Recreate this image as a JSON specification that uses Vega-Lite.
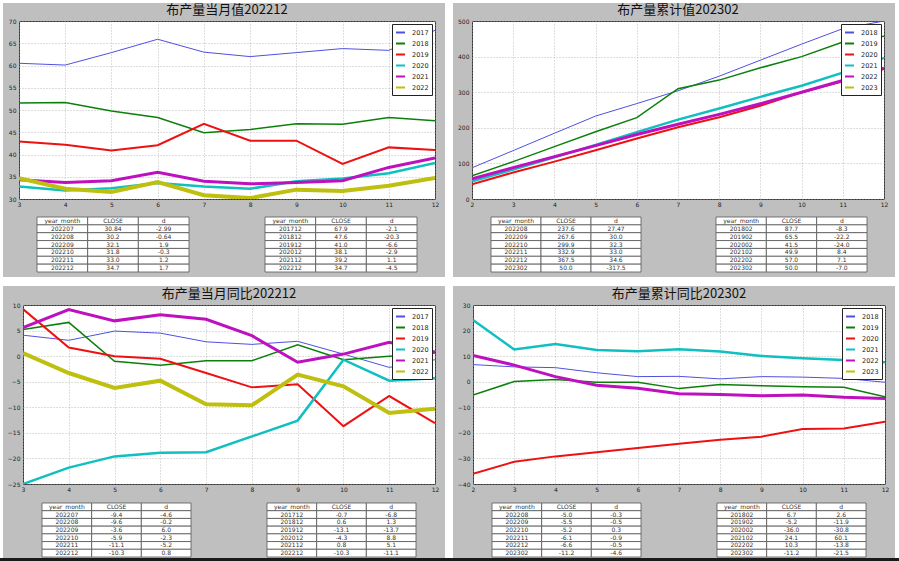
{
 "$schema": "https://vega.github.io/schema/vega-lite/v6.json",
 "padding": 0,
 "background": "#bfbfbf",
 "data": {"values": []},
 "columns": 2,
 "spacing": 0,
 "bounds": "flush",
 "align": "each",
 "resolve": {"scale": {"color": "independent"}, "legend": {"color": "independent"}},
 "config": {
  "view": {"stroke": null},
  "font": "DejaVu Sans",
  "axis": {"labelFontSize": 6, "labelColor": "#222", "labelFont": "DejaVu Sans", "ticks": false, "domain": false, "grid": true, "gridColor": "#a0a0a0", "gridDash": [1, 2], "gridWidth": 0.7, "labelPadding": 2, "labelOverlap": false, "labelFlush": false},
  "axisY": {"labelPadding": 3},
  "legend": {"orient": "top-right", "offset": 3, "fillColor": "white", "strokeColor": "#222", "padding": 3, "labelFontSize": 6.5, "labelFont": "DejaVu Sans", "labelColor": "#222", "symbolSize": 81, "symbolStrokeWidth": 2, "rowPadding": 1, "labelOffset": 6, "symbolType": "stroke", "cornerRadius": 0},
  "title": {"fontSize": 13, "font": "Noto Sans CJK SC", "fontWeight": "normal", "color": "#111", "offset": 1},
  "line": {"strokeCap": "butt"}
 },
 "datasets": {
  "lines": [
   {"p":"TL","m":3,"2017":60.5,"2018":51.6,"2019":42.9,"2020":32.8,"2021":34.3,"2022":34.7},
   {"p":"TL","m":4,"2017":60.1,"2018":51.7,"2019":42.2,"2020":31.9,"2021":33.7,"2022":32.3},
   {"p":"TL","m":5,"2017":62.9,"2018":49.8,"2019":40.9,"2020":32.4,"2021":34.1,"2022":31.6},
   {"p":"TL","m":6,"2017":65.9,"2018":48.3,"2019":42.1,"2020":33.6,"2021":36.0,"2022":33.83},
   {"p":"TL","m":7,"2017":63.0,"2018":44.9,"2019":46.9,"2020":32.8,"2021":34.0,"2022":30.84},
   {"p":"TL","m":8,"2017":62.0,"2018":45.6,"2019":43.1,"2020":32.3,"2021":33.4,"2022":30.2},
   {"p":"TL","m":9,"2017":62.9,"2018":46.9,"2019":43.1,"2020":34.0,"2021":33.7,"2022":32.1},
   {"p":"TL","m":10,"2017":63.8,"2018":46.8,"2019":37.9,"2020":34.6,"2021":34.1,"2022":31.8},
   {"p":"TL","m":11,"2017":63.4,"2018":48.3,"2019":41.6,"2020":35.8,"2021":37.1,"2022":33.0},
   {"p":"TL","m":12,"2017":67.9,"2018":47.6,"2019":41.0,"2020":38.1,"2021":39.2,"2022":34.7},
   {"p":"TR","m":2,"2018":87.7,"2019":65.5,"2020":41.5,"2021":49.9,"2022":57.0,"2023":50.0},
   {"p":"TR","m":3,"2018":136,"2019":105,"2020":74.6,"2021":83,"2022":88},
   {"p":"TR","m":4,"2018":184.7,"2019":147,"2020":105,"2021":117,"2022":119},
   {"p":"TR","m":5,"2018":233,"2019":189,"2020":137,"2021":152,"2022":150},
   {"p":"TR","m":6,"2018":268,"2019":228.5,"2020":170,"2021":188,"2022":181},
   {"p":"TR","m":7,"2018":304,"2019":309.7,"2020":201.5,"2021":223,"2022":210.1},
   {"p":"TR","m":8,"2018":345,"2019":334,"2020":229.5,"2021":254,"2022":237.6},
   {"p":"TR","m":9,"2018":390,"2019":368.5,"2020":262,"2021":287,"2022":267.6},
   {"p":"TR","m":10,"2018":435,"2019":400,"2020":300,"2021":318,"2022":299.9},
   {"p":"TR","m":11,"2018":478.5,"2019":441,"2020":331,"2021":355,"2022":332.9},
   {"p":"TR","m":12,"2018":500,"2019":457,"2020":365,"2021":396.5,"2022":367.5},
   {"p":"BL","m":3,"2017":4.1,"2018":5.2,"2019":9.2,"2020":-25.0,"2021":5.6,"2022":0.6},
   {"p":"BL","m":4,"2017":3.1,"2018":6.6,"2019":1.7,"2020":-21.8,"2021":9.1,"2022":-3.3},
   {"p":"BL","m":5,"2017":4.9,"2018":-1.0,"2019":0.0,"2020":-19.6,"2021":6.9,"2022":-6.2},
   {"p":"BL","m":6,"2017":4.5,"2018":-1.8,"2019":-0.5,"2020":-18.9,"2021":8.1,"2022":-4.8},
   {"p":"BL","m":7,"2017":2.8,"2018":-0.9,"2019":-3.3,"2020":-18.8,"2021":7.2,"2022":-9.4},
   {"p":"BL","m":8,"2017":2.3,"2018":-0.9,"2019":-6.1,"2020":-15.7,"2021":4.0,"2022":-9.6},
   {"p":"BL","m":9,"2017":2.9,"2018":2.2,"2019":-5.5,"2020":-12.6,"2021":-1.2,"2022":-3.6},
   {"p":"BL","m":10,"2017":0.4,"2018":-0.7,"2019":-13.7,"2020":-0.7,"2021":0.4,"2022":-5.9},
   {"p":"BL","m":11,"2017":-2.2,"2018":0.0,"2019":-7.8,"2020":-4.8,"2021":2.7,"2022":-11.1},
   {"p":"BL","m":12,"2017":-0.7,"2018":0.6,"2019":-13.1,"2020":-4.3,"2021":0.8,"2022":-10.3},
   {"p":"BR","m":2,"2018":6.7,"2019":-5.2,"2020":-36.0,"2021":24.1,"2022":10.3,"2023":-11.2},
   {"p":"BR","m":3,"2018":5.8,"2019":0.1,"2020":-31.3,"2021":12.6,"2022":6.5},
   {"p":"BR","m":4,"2018":5.5,"2019":0.9,"2020":-29.2,"2021":14.7,"2022":2.0},
   {"p":"BR","m":5,"2018":3.5,"2019":-0.2,"2020":-27.6,"2021":12.4,"2022":-1.4},
   {"p":"BR","m":6,"2018":2.0,"2019":-0.2,"2020":-25.9,"2021":11.9,"2022":-2.6},
   {"p":"BR","m":7,"2018":2.1,"2019":-2.7,"2020":-24.3,"2021":12.7,"2022":-4.7},
   {"p":"BR","m":8,"2018":1.1,"2019":-1.1,"2020":-22.7,"2021":11.8,"2022":-5.0},
   {"p":"BR","m":9,"2018":2.0,"2019":-1.6,"2020":-21.5,"2021":10.1,"2022":-5.5},
   {"p":"BR","m":10,"2018":1.8,"2019":-2.0,"2020":-18.5,"2021":9.2,"2022":-5.2},
   {"p":"BR","m":11,"2018":1.3,"2019":-2.2,"2020":-18.3,"2021":8.5,"2022":-6.1},
   {"p":"BR","m":12,"2018":-0.2,"2019":-5.9,"2020":-15.7,"2021":7.6,"2022":-6.6}
  ],
  "tables": [
   {"t":"TL1","r":0,"year_month":"year_month","CLOSE":"CLOSE","d":"d"},
   {"t":"TL1","r":1,"year_month":"202207","CLOSE":"30.84","d":"-2.99"},
   {"t":"TL1","r":2,"year_month":"202208","CLOSE":"30.2","d":"-0.64"},
   {"t":"TL1","r":3,"year_month":"202209","CLOSE":"32.1","d":"1.9"},
   {"t":"TL1","r":4,"year_month":"202210","CLOSE":"31.8","d":"-0.3"},
   {"t":"TL1","r":5,"year_month":"202211","CLOSE":"33.0","d":"1.2"},
   {"t":"TL1","r":6,"year_month":"202212","CLOSE":"34.7","d":"1.7"},
   {"t":"TL2","r":0,"year_month":"year_month","CLOSE":"CLOSE","d":"d"},
   {"t":"TL2","r":1,"year_month":"201712","CLOSE":"67.9","d":"-2.1"},
   {"t":"TL2","r":2,"year_month":"201812","CLOSE":"47.6","d":"-20.3"},
   {"t":"TL2","r":3,"year_month":"201912","CLOSE":"41.0","d":"-6.6"},
   {"t":"TL2","r":4,"year_month":"202012","CLOSE":"38.1","d":"-2.9"},
   {"t":"TL2","r":5,"year_month":"202112","CLOSE":"39.2","d":"1.1"},
   {"t":"TL2","r":6,"year_month":"202212","CLOSE":"34.7","d":"-4.5"},
   {"t":"TR1","r":0,"year_month":"year_month","CLOSE":"CLOSE","d":"d"},
   {"t":"TR1","r":1,"year_month":"202208","CLOSE":"237.6","d":"27.47"},
   {"t":"TR1","r":2,"year_month":"202209","CLOSE":"267.6","d":"30.0"},
   {"t":"TR1","r":3,"year_month":"202210","CLOSE":"299.9","d":"32.3"},
   {"t":"TR1","r":4,"year_month":"202211","CLOSE":"332.9","d":"33.0"},
   {"t":"TR1","r":5,"year_month":"202212","CLOSE":"367.5","d":"34.6"},
   {"t":"TR1","r":6,"year_month":"202302","CLOSE":"50.0","d":"-317.5"},
   {"t":"TR2","r":0,"year_month":"year_month","CLOSE":"CLOSE","d":"d"},
   {"t":"TR2","r":1,"year_month":"201802","CLOSE":"87.7","d":"-8.3"},
   {"t":"TR2","r":2,"year_month":"201902","CLOSE":"65.5","d":"-22.2"},
   {"t":"TR2","r":3,"year_month":"202002","CLOSE":"41.5","d":"-24.0"},
   {"t":"TR2","r":4,"year_month":"202102","CLOSE":"49.9","d":"8.4"},
   {"t":"TR2","r":5,"year_month":"202202","CLOSE":"57.0","d":"7.1"},
   {"t":"TR2","r":6,"year_month":"202302","CLOSE":"50.0","d":"-7.0"},
   {"t":"BL1","r":0,"year_month":"year_month","CLOSE":"CLOSE","d":"d"},
   {"t":"BL1","r":1,"year_month":"202207","CLOSE":"-9.4","d":"-4.6"},
   {"t":"BL1","r":2,"year_month":"202208","CLOSE":"-9.6","d":"-0.2"},
   {"t":"BL1","r":3,"year_month":"202209","CLOSE":"-3.6","d":"6.0"},
   {"t":"BL1","r":4,"year_month":"202210","CLOSE":"-5.9","d":"-2.3"},
   {"t":"BL1","r":5,"year_month":"202211","CLOSE":"-11.1","d":"-5.2"},
   {"t":"BL1","r":6,"year_month":"202212","CLOSE":"-10.3","d":"0.8"},
   {"t":"BL2","r":0,"year_month":"year_month","CLOSE":"CLOSE","d":"d"},
   {"t":"BL2","r":1,"year_month":"201712","CLOSE":"-0.7","d":"-6.8"},
   {"t":"BL2","r":2,"year_month":"201812","CLOSE":"0.6","d":"1.3"},
   {"t":"BL2","r":3,"year_month":"201912","CLOSE":"-13.1","d":"-13.7"},
   {"t":"BL2","r":4,"year_month":"202012","CLOSE":"-4.3","d":"8.8"},
   {"t":"BL2","r":5,"year_month":"202112","CLOSE":"0.8","d":"5.1"},
   {"t":"BL2","r":6,"year_month":"202212","CLOSE":"-10.3","d":"-11.1"},
   {"t":"BR1","r":0,"year_month":"year_month","CLOSE":"CLOSE","d":"d"},
   {"t":"BR1","r":1,"year_month":"202208","CLOSE":"-5.0","d":"-0.3"},
   {"t":"BR1","r":2,"year_month":"202209","CLOSE":"-5.5","d":"-0.5"},
   {"t":"BR1","r":3,"year_month":"202210","CLOSE":"-5.2","d":"0.3"},
   {"t":"BR1","r":4,"year_month":"202211","CLOSE":"-6.1","d":"-0.9"},
   {"t":"BR1","r":5,"year_month":"202212","CLOSE":"-6.6","d":"-0.5"},
   {"t":"BR1","r":6,"year_month":"202302","CLOSE":"-11.2","d":"-4.6"},
   {"t":"BR2","r":0,"year_month":"year_month","CLOSE":"CLOSE","d":"d"},
   {"t":"BR2","r":1,"year_month":"201802","CLOSE":"6.7","d":"2.6"},
   {"t":"BR2","r":2,"year_month":"201902","CLOSE":"-5.2","d":"-11.9"},
   {"t":"BR2","r":3,"year_month":"202002","CLOSE":"-36.0","d":"-30.8"},
   {"t":"BR2","r":4,"year_month":"202102","CLOSE":"24.1","d":"60.1"},
   {"t":"BR2","r":5,"year_month":"202202","CLOSE":"10.3","d":"-13.8"},
   {"t":"BR2","r":6,"year_month":"202302","CLOSE":"-11.2","d":"-21.5"}
  ]
 },
 "concat": [
  {"width":3,"height":3,"mark":"point","view":{"fill":"white"}},
  {"width":896,"height":3,"mark":"point","view":{"fill":"white"}},

  {"width":3,"height":18,"mark":"point","view":{"fill":"white"}},
  {"spacing":0,"bounds":"flush","hconcat":[
   {"width":442,"height":18,"mark":"point"},
   {"width":8,"height":18,"mark":"point","view":{"fill":"white"}},
   {"width":442,"height":18,"mark":"point"},
   {"width":4,"height":18,"mark":"point","view":{"fill":"white"}}
  ]},

  {"width":3,"height":178,"mark":"point","view":{"fill":"white"}},
  {"spacing":0,"bounds":"flush",
   "resolve": {"scale": {"color": "independent"}, "legend": {"color": "independent"}},
   "hconcat":[
   {"width":16,"height":178,"mark":"point"},
   {"width": 416, "height": 178, "title": "布产量当月值202212",
    "view": {"fill": "white", "stroke": "#333", "strokeWidth": 1},
    "data": {"name": "lines"},
    "transform": [{"filter": "datum.p == 'TL'"}, {"fold": ["2017","2018","2019","2020","2021","2022","2023"], "as": ["year","v"]}, {"filter": "isValid(datum.v)"}],
    "mark": {"type": "line", "clip": true},
    "encoding": {
     "x": {"field": "m", "type": "quantitative", "title": null, "scale": {"domain": [3, 12], "nice": false, "zero": false}, "axis": {"values": [3,4,5,6,7,8,9,10,11,12]}},
     "y": {"field": "v", "type": "quantitative", "title": null, "scale": {"domain": [30, 70], "nice": false, "zero": false}, "axis": {"values": [30,35,40,45,50,55,60,65,70]}},
     "color": {"field": "year", "type": "nominal", "scale": {"domain": ["2017","2018","2019","2020","2021","2022"], "range": ["#5050e0","#0a800a","#ee1111","#10bfbf","#bf10bf","#bfbf10"]}, "legend": {"title": null}},
     "strokeWidth": {"condition": [{"test": "datum.year == '2018'", "value": 1.5}, {"test": "datum.year == '2019'", "value": 2}, {"test": "datum.year == '2020'", "value": 2.5}, {"test": "datum.year == '2021'", "value": 3}, {"test": "datum.year == '2022'", "value": 4}], "value": 1}
    }
   },
   {"width":10,"height":178,"mark":"point"},
   {"width":8,"height":178,"mark":"point","view":{"fill":"white"}},
   {"width":19,"height":178,"mark":"point"},
   {"width": 412, "height": 178, "title": "布产量累计值202302",
    "view": {"fill": "white", "stroke": "#333", "strokeWidth": 1},
    "data": {"name": "lines"},
    "transform": [{"filter": "datum.p == 'TR'"}, {"fold": ["2017","2018","2019","2020","2021","2022","2023"], "as": ["year","v"]}, {"filter": "isValid(datum.v)"}],
    "mark": {"type": "line", "clip": true},
    "encoding": {
     "x": {"field": "m", "type": "quantitative", "title": null, "scale": {"domain": [2, 12], "nice": false, "zero": false}, "axis": {"values": [2,3,4,5,6,7,8,9,10,11,12]}},
     "y": {"field": "v", "type": "quantitative", "title": null, "scale": {"domain": [0, 500], "nice": false}, "axis": {"values": [0,100,200,300,400,500]}},
     "color": {"field": "year", "type": "nominal", "scale": {"domain": ["2018","2019","2020","2021","2022","2023"], "range": ["#5050e0","#0a800a","#ee1111","#10bfbf","#bf10bf","#bfbf10"]}, "legend": {"title": null}},
     "strokeWidth": {"condition": [{"test": "datum.year == '2019'", "value": 1.5}, {"test": "datum.year == '2020'", "value": 2}, {"test": "datum.year == '2021'", "value": 2.5}, {"test": "datum.year == '2022'", "value": 3}, {"test": "datum.year == '2023'", "value": 4}], "value": 1}
    }
   },
   {"width":11,"height":178,"mark":"point"},
   {"width":4,"height":178,"mark":"point","view":{"fill":"white"}}
  ]},

  {"width":3,"height":18,"mark":"point","view":{"fill":"white"}},
  {"spacing":0,"bounds":"flush","hconcat":[
   {"width":442,"height":18,"mark":"point"},
   {"width":8,"height":18,"mark":"point","view":{"fill":"white"}},
   {"width":442,"height":18,"mark":"point"},
   {"width":4,"height":18,"mark":"point","view":{"fill":"white"}}
  ]},

  {"width":3,"height":55,"mark":"point","view":{"fill":"white"}},
  {"spacing":0,"bounds":"flush","hconcat":[
   {"width":34,"height":55,"mark":"point"},
   {"width": 152, "height": 55, "data": {"name": "tables"},
    "transform": [{"filter": "datum.t == 'TL1'"}, {"fold": ["year_month","CLOSE","d"], "as": ["col","txt"]}],
    "encoding": {"x": {"field": "col", "type": "nominal", "sort": ["year_month","CLOSE","d"], "scale": {"paddingInner": 0, "paddingOuter": 0}, "axis": null}, "y": {"field": "r", "type": "ordinal", "scale": {"paddingInner": 0, "paddingOuter": 0}, "axis": null}},
    "layer": [{"mark": {"type": "rect", "fill": "white", "stroke": "#555", "strokeWidth": 0.8}}, {"mark": {"type": "text", "fontSize": 6, "font": "DejaVu Sans", "color": "#333"}, "encoding": {"text": {"field": "txt"}}}]},
   {"width":76,"height":55,"mark":"point"},
   {"width": 152, "height": 55, "data": {"name": "tables"},
    "transform": [{"filter": "datum.t == 'TL2'"}, {"fold": ["year_month","CLOSE","d"], "as": ["col","txt"]}],
    "encoding": {"x": {"field": "col", "type": "nominal", "sort": ["year_month","CLOSE","d"], "scale": {"paddingInner": 0, "paddingOuter": 0}, "axis": null}, "y": {"field": "r", "type": "ordinal", "scale": {"paddingInner": 0, "paddingOuter": 0}, "axis": null}},
    "layer": [{"mark": {"type": "rect", "fill": "white", "stroke": "#555", "strokeWidth": 0.8}}, {"mark": {"type": "text", "fontSize": 6, "font": "DejaVu Sans", "color": "#333"}, "encoding": {"text": {"field": "txt"}}}]},
   {"width":28,"height":55,"mark":"point"},
   {"width":8,"height":55,"mark":"point","view":{"fill":"white"}},
   {"width":38,"height":55,"mark":"point"},
   {"width": 150, "height": 55, "data": {"name": "tables"},
    "transform": [{"filter": "datum.t == 'TR1'"}, {"fold": ["year_month","CLOSE","d"], "as": ["col","txt"]}],
    "encoding": {"x": {"field": "col", "type": "nominal", "sort": ["year_month","CLOSE","d"], "scale": {"paddingInner": 0, "paddingOuter": 0}, "axis": null}, "y": {"field": "r", "type": "ordinal", "scale": {"paddingInner": 0, "paddingOuter": 0}, "axis": null}},
    "layer": [{"mark": {"type": "rect", "fill": "white", "stroke": "#555", "strokeWidth": 0.8}}, {"mark": {"type": "text", "fontSize": 6, "font": "DejaVu Sans", "color": "#333"}, "encoding": {"text": {"field": "txt"}}}]},
   {"width":75,"height":55,"mark":"point"},
   {"width": 151, "height": 55, "data": {"name": "tables"},
    "transform": [{"filter": "datum.t == 'TR2'"}, {"fold": ["year_month","CLOSE","d"], "as": ["col","txt"]}],
    "encoding": {"x": {"field": "col", "type": "nominal", "sort": ["year_month","CLOSE","d"], "scale": {"paddingInner": 0, "paddingOuter": 0}, "axis": null}, "y": {"field": "r", "type": "ordinal", "scale": {"paddingInner": 0, "paddingOuter": 0}, "axis": null}},
    "layer": [{"mark": {"type": "rect", "fill": "white", "stroke": "#555", "strokeWidth": 0.8}}, {"mark": {"type": "text", "fontSize": 6, "font": "DejaVu Sans", "color": "#333"}, "encoding": {"text": {"field": "txt"}}}]},
   {"width":28,"height":55,"mark":"point"},
   {"width":4,"height":55,"mark":"point","view":{"fill":"white"}}
  ]},

  {"width":3,"height":5,"mark":"point","view":{"fill":"white"}},
  {"spacing":0,"bounds":"flush","hconcat":[
   {"width":442,"height":5,"mark":"point"},
   {"width":8,"height":5,"mark":"point","view":{"fill":"white"}},
   {"width":442,"height":5,"mark":"point"},
   {"width":4,"height":5,"mark":"point","view":{"fill":"white"}}
  ]},

  {"width":3,"height":9,"mark":"point","view":{"fill":"white"}},
  {"width":896,"height":9,"mark":"point","view":{"fill":"white"}},

  {"width":3,"height":19,"mark":"point","view":{"fill":"white"}},
  {"spacing":0,"bounds":"flush","hconcat":[
   {"width":442,"height":19,"mark":"point"},
   {"width":8,"height":19,"mark":"point","view":{"fill":"white"}},
   {"width":442,"height":19,"mark":"point"},
   {"width":4,"height":19,"mark":"point","view":{"fill":"white"}}
  ]},

  {"width":3,"height":179,"mark":"point","view":{"fill":"white"}},
  {"spacing":0,"bounds":"flush",
   "resolve": {"scale": {"color": "independent"}, "legend": {"color": "independent"}},
   "hconcat":[
   {"width":20,"height":179,"mark":"point"},
   {"width": 412, "height": 179, "title": "布产量当月同比202212",
    "view": {"fill": "white", "stroke": "#333", "strokeWidth": 1},
    "data": {"name": "lines"},
    "transform": [{"filter": "datum.p == 'BL'"}, {"fold": ["2017","2018","2019","2020","2021","2022","2023"], "as": ["year","v"]}, {"filter": "isValid(datum.v)"}],
    "mark": {"type": "line", "clip": true},
    "encoding": {
     "x": {"field": "m", "type": "quantitative", "title": null, "scale": {"domain": [3, 12], "nice": false, "zero": false}, "axis": {"values": [3,4,5,6,7,8,9,10,11,12]}},
     "y": {"field": "v", "type": "quantitative", "title": null, "scale": {"domain": [-25, 10], "nice": false, "zero": false}, "axis": {"values": [-25,-20,-15,-10,-5,0,5,10]}},
     "color": {"field": "year", "type": "nominal", "scale": {"domain": ["2017","2018","2019","2020","2021","2022"], "range": ["#5050e0","#0a800a","#ee1111","#10bfbf","#bf10bf","#bfbf10"]}, "legend": {"title": null}},
     "strokeWidth": {"condition": [{"test": "datum.year == '2018'", "value": 1.5}, {"test": "datum.year == '2019'", "value": 2}, {"test": "datum.year == '2020'", "value": 2.5}, {"test": "datum.year == '2021'", "value": 3}, {"test": "datum.year == '2022'", "value": 4}], "value": 1}
    }
   },
   {"width":10,"height":179,"mark":"point"},
   {"width":8,"height":179,"mark":"point","view":{"fill":"white"}},
   {"width":20,"height":179,"mark":"point"},
   {"width": 412, "height": 179, "title": "布产量累计同比202302",
    "view": {"fill": "white", "stroke": "#333", "strokeWidth": 1},
    "data": {"name": "lines"},
    "transform": [{"filter": "datum.p == 'BR'"}, {"fold": ["2017","2018","2019","2020","2021","2022","2023"], "as": ["year","v"]}, {"filter": "isValid(datum.v)"}],
    "mark": {"type": "line", "clip": true},
    "encoding": {
     "x": {"field": "m", "type": "quantitative", "title": null, "scale": {"domain": [2, 12], "nice": false, "zero": false}, "axis": {"values": [2,3,4,5,6,7,8,9,10,11,12]}},
     "y": {"field": "v", "type": "quantitative", "title": null, "scale": {"domain": [-40, 30], "nice": false, "zero": false}, "axis": {"values": [-40,-30,-20,-10,0,10,20,30]}},
     "color": {"field": "year", "type": "nominal", "scale": {"domain": ["2018","2019","2020","2021","2022","2023"], "range": ["#5050e0","#0a800a","#ee1111","#10bfbf","#bf10bf","#bfbf10"]}, "legend": {"title": null}},
     "strokeWidth": {"condition": [{"test": "datum.year == '2019'", "value": 1.5}, {"test": "datum.year == '2020'", "value": 2}, {"test": "datum.year == '2021'", "value": 2.5}, {"test": "datum.year == '2022'", "value": 3}, {"test": "datum.year == '2023'", "value": 4}], "value": 1}
    }
   },
   {"width":10,"height":179,"mark":"point"},
   {"width":4,"height":179,"mark":"point","view":{"fill":"white"}}
  ]},

  {"width":3,"height":19,"mark":"point","view":{"fill":"white"}},
  {"spacing":0,"bounds":"flush","hconcat":[
   {"width":442,"height":19,"mark":"point"},
   {"width":8,"height":19,"mark":"point","view":{"fill":"white"}},
   {"width":442,"height":19,"mark":"point"},
   {"width":4,"height":19,"mark":"point","view":{"fill":"white"}}
  ]},

  {"width":3,"height":54,"mark":"point","view":{"fill":"white"}},
  {"spacing":0,"bounds":"flush","hconcat":[
   {"width":39,"height":54,"mark":"point"},
   {"width": 149, "height": 54, "data": {"name": "tables"},
    "transform": [{"filter": "datum.t == 'BL1'"}, {"fold": ["year_month","CLOSE","d"], "as": ["col","txt"]}],
    "encoding": {"x": {"field": "col", "type": "nominal", "sort": ["year_month","CLOSE","d"], "scale": {"paddingInner": 0, "paddingOuter": 0}, "axis": null}, "y": {"field": "r", "type": "ordinal", "scale": {"paddingInner": 0, "paddingOuter": 0}, "axis": null}},
    "layer": [{"mark": {"type": "rect", "fill": "white", "stroke": "#555", "strokeWidth": 0.8}}, {"mark": {"type": "text", "fontSize": 6, "font": "DejaVu Sans", "color": "#333"}, "encoding": {"text": {"field": "txt"}}}]},
   {"width":76,"height":54,"mark":"point"},
   {"width": 149, "height": 54, "data": {"name": "tables"},
    "transform": [{"filter": "datum.t == 'BL2'"}, {"fold": ["year_month","CLOSE","d"], "as": ["col","txt"]}],
    "encoding": {"x": {"field": "col", "type": "nominal", "sort": ["year_month","CLOSE","d"], "scale": {"paddingInner": 0, "paddingOuter": 0}, "axis": null}, "y": {"field": "r", "type": "ordinal", "scale": {"paddingInner": 0, "paddingOuter": 0}, "axis": null}},
    "layer": [{"mark": {"type": "rect", "fill": "white", "stroke": "#555", "strokeWidth": 0.8}}, {"mark": {"type": "text", "fontSize": 6, "font": "DejaVu Sans", "color": "#333"}, "encoding": {"text": {"field": "txt"}}}]},
   {"width":29,"height":54,"mark":"point"},
   {"width":8,"height":54,"mark":"point","view":{"fill":"white"}},
   {"width":39,"height":54,"mark":"point"},
   {"width": 149, "height": 54, "data": {"name": "tables"},
    "transform": [{"filter": "datum.t == 'BR1'"}, {"fold": ["year_month","CLOSE","d"], "as": ["col","txt"]}],
    "encoding": {"x": {"field": "col", "type": "nominal", "sort": ["year_month","CLOSE","d"], "scale": {"paddingInner": 0, "paddingOuter": 0}, "axis": null}, "y": {"field": "r", "type": "ordinal", "scale": {"paddingInner": 0, "paddingOuter": 0}, "axis": null}},
    "layer": [{"mark": {"type": "rect", "fill": "white", "stroke": "#555", "strokeWidth": 0.8}}, {"mark": {"type": "text", "fontSize": 6, "font": "DejaVu Sans", "color": "#333"}, "encoding": {"text": {"field": "txt"}}}]},
   {"width":76,"height":54,"mark":"point"},
   {"width": 149, "height": 54, "data": {"name": "tables"},
    "transform": [{"filter": "datum.t == 'BR2'"}, {"fold": ["year_month","CLOSE","d"], "as": ["col","txt"]}],
    "encoding": {"x": {"field": "col", "type": "nominal", "sort": ["year_month","CLOSE","d"], "scale": {"paddingInner": 0, "paddingOuter": 0}, "axis": null}, "y": {"field": "r", "type": "ordinal", "scale": {"paddingInner": 0, "paddingOuter": 0}, "axis": null}},
    "layer": [{"mark": {"type": "rect", "fill": "white", "stroke": "#555", "strokeWidth": 0.8}}, {"mark": {"type": "text", "fontSize": 6, "font": "DejaVu Sans", "color": "#333"}, "encoding": {"text": {"field": "txt"}}}]},
   {"width":29,"height":54,"mark":"point"},
   {"width":4,"height":54,"mark":"point","view":{"fill":"white"}}
  ]},

  {"width":3,"height":1,"mark":"point","view":{"fill":"white"}},
  {"spacing":0,"bounds":"flush","hconcat":[
   {"width":442,"height":1,"mark":"point"},
   {"width":8,"height":1,"mark":"point","view":{"fill":"white"}},
   {"width":442,"height":1,"mark":"point"},
   {"width":4,"height":1,"mark":"point","view":{"fill":"white"}}
  ]},

  {"width":3,"height":3,"mark":"point","view":{"fill":"#1a1a1a"}},
  {"width":896,"height":3,"mark":"point","view":{"fill":"#1a1a1a"}}
 ]
}
